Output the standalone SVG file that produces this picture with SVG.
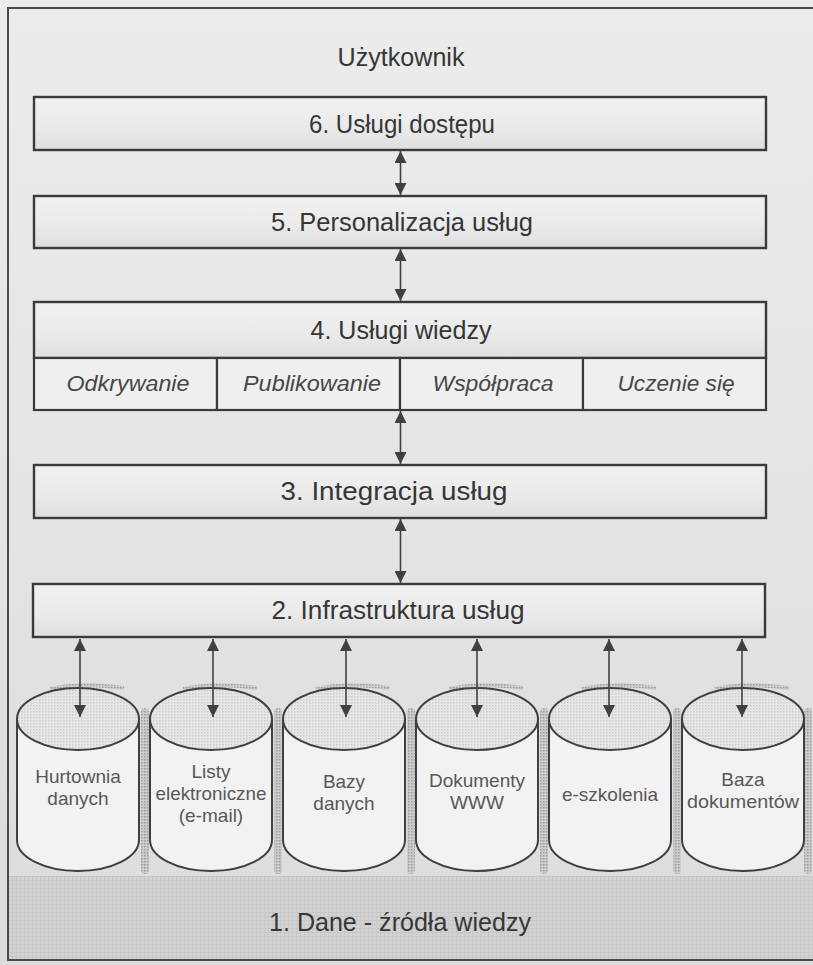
<svg xmlns="http://www.w3.org/2000/svg" width="813" height="965" viewBox="0 0 813 965">
  <defs>
    <style>
      .frame { fill: none; stroke: #4a4a4a; stroke-width: 2; }
      .layer { fill: url(#boxFill); stroke: #3a3a3a; stroke-width: 2.4; }
      .cell { fill: #efefef; stroke: #3a3a3a; stroke-width: 2.2; }
      .title { font-family: "Liberation Sans", Arial, sans-serif; font-size: 26px; fill: #363636; text-anchor: middle; dominant-baseline: central; }
      .sub { font-family: "Liberation Sans", Arial, sans-serif; font-size: 22px; font-style: italic; fill: #474747; text-anchor: middle; dominant-baseline: central; }
      .store { font-family: "Liberation Sans", Arial, sans-serif; font-size: 19px; fill: #585858; text-anchor: middle; }
      .link { stroke: #404040; stroke-width: 1.6; fill: none; marker-start: url(#head); marker-end: url(#head); }
      .body { fill: #f2f2f2; stroke: #3f3f3f; stroke-width: 2; }
      .lid { fill: url(#dots); stroke: #3f3f3f; stroke-width: 2; }
      .shade { fill: url(#dotsDark); }
      .rim { fill: none; stroke: url(#dotsDark); stroke-width: 4; }
    </style>
    <linearGradient id="boxFill" x1="0" y1="0" x2="0" y2="1">
      <stop offset="0" stop-color="#f1f1f1"/>
      <stop offset="0.55" stop-color="#ebebeb"/>
      <stop offset="1" stop-color="#dedede"/>
    </linearGradient>
    <linearGradient id="page" x1="0" y1="0" x2="0" y2="1">
      <stop offset="0" stop-color="#ececec"/>
      <stop offset="0.6" stop-color="#e3e3e3"/>
      <stop offset="1" stop-color="#dcdcdc"/>
    </linearGradient>
    <pattern id="dots" width="3" height="3" patternUnits="userSpaceOnUse">
      <rect width="3" height="3" fill="#e6e6e6"/>
      <rect width="1.5" height="1.5" fill="#cfcfcf"/>
    </pattern>
    <pattern id="dotsDark" width="3" height="3" patternUnits="userSpaceOnUse">
      <rect width="3" height="3" fill="#cccccc"/>
      <rect width="1.5" height="1.5" fill="#9c9c9c"/>
    </pattern>
    <pattern id="grid" width="4" height="4" patternUnits="userSpaceOnUse">
      <rect width="4" height="4" fill="#d3d3d3"/>
      <rect width="4" height="1" fill="#c6c6c6"/>
      <rect width="1" height="4" fill="#c9c9c9"/>
    </pattern>
    <marker id="head" viewBox="0 0 10 10" refX="10" refY="5" markerWidth="12" markerHeight="12" markerUnits="userSpaceOnUse" orient="auto-start-reverse">
      <path d="M0,0 L10,5 L0,10 z" fill="#404040"/>
    </marker>
  </defs>

  <!-- page background -->
  <rect x="0" y="0" width="813" height="965" fill="url(#page)"/>
  <rect x="9" y="876" width="804" height="84" fill="url(#grid)"/>
  <rect class="frame" x="8" y="8" width="830" height="952"/>

  <!-- top label -->
  <g id="user">
    <text class="title" x="401" y="57" textLength="127" lengthAdjust="spacingAndGlyphs">Użytkownik</text>
  </g>

  <!-- service layers -->
  <g id="layer6">
    <rect class="layer" x="34" y="97" width="732" height="53"/>
    <text class="title" x="402" y="124" textLength="186" lengthAdjust="spacingAndGlyphs">6. Usługi dostępu</text>
  </g>
  <g id="layer5">
    <rect class="layer" x="34" y="196" width="732" height="52"/>
    <text class="title" x="402" y="222" textLength="262" lengthAdjust="spacingAndGlyphs">5. Personalizacja usług</text>
  </g>
  <g id="layer4">
    <rect class="layer" x="34" y="302" width="732" height="56"/>
    <text class="title" x="401" y="330" textLength="181" lengthAdjust="spacingAndGlyphs">4. Usługi wiedzy</text>
    <rect class="cell" x="34" y="358" width="183" height="52"/>
    <rect class="cell" x="217" y="358" width="183" height="52"/>
    <rect class="cell" x="400" y="358" width="183" height="52"/>
    <rect class="cell" x="583" y="358" width="183" height="52"/>
    <text class="sub" x="128" y="383" textLength="123" lengthAdjust="spacingAndGlyphs">Odkrywanie</text>
    <text class="sub" x="312" y="383" textLength="138" lengthAdjust="spacingAndGlyphs">Publikowanie</text>
    <text class="sub" x="493" y="383" textLength="121" lengthAdjust="spacingAndGlyphs">Współpraca</text>
    <text class="sub" x="676" y="383" textLength="117" lengthAdjust="spacingAndGlyphs">Uczenie się</text>
  </g>
  <g id="layer3">
    <rect class="layer" x="34" y="465" width="732" height="53"/>
    <text class="title" x="394" y="491" textLength="227" lengthAdjust="spacingAndGlyphs">3. Integracja usług</text>
  </g>
  <g id="layer2">
    <rect class="layer" x="33" y="584" width="732" height="53"/>
    <text class="title" x="398" y="610" textLength="253" lengthAdjust="spacingAndGlyphs">2. Infrastruktura usług</text>
  </g>

  <!-- data sources (cylinders) -->
  <g id="src1">
    <rect class="shade" x="141" y="708" width="8" height="166" rx="4"/>
    <path class="rim" d="M50,689 Q80,682 124,688"/>
    <path class="body" d="M17,719 L17,840 A61,31 0 0 0 139,840 L139,719 Z"/>
    <ellipse class="lid" cx="78" cy="719" rx="61" ry="31"/>
    <text class="store" x="78" y="783">Hurtownia</text>
    <text class="store" x="78" y="805">danych</text>
  </g>
  <g id="src2">
    <rect class="shade" x="274" y="708" width="8" height="166" rx="4"/>
    <path class="rim" d="M183,689 Q213,682 257,688"/>
    <path class="body" d="M150,719 L150,840 A61,31 0 0 0 272,840 L272,719 Z"/>
    <ellipse class="lid" cx="211" cy="719" rx="61" ry="31"/>
    <text class="store" x="211" y="778">Listy</text>
    <text class="store" x="211" y="800" textLength="111" lengthAdjust="spacingAndGlyphs">elektroniczne</text>
    <text class="store" x="211" y="822">(e-mail)</text>
  </g>
  <g id="src3">
    <rect class="shade" x="407" y="708" width="8" height="166" rx="4"/>
    <path class="rim" d="M316,689 Q346,682 390,688"/>
    <path class="body" d="M283,719 L283,840 A61,31 0 0 0 405,840 L405,719 Z"/>
    <ellipse class="lid" cx="344" cy="719" rx="61" ry="31"/>
    <text class="store" x="344" y="788">Bazy</text>
    <text class="store" x="344" y="810">danych</text>
  </g>
  <g id="src4">
    <rect class="shade" x="540" y="708" width="8" height="166" rx="4"/>
    <path class="rim" d="M449,689 Q479,682 523,688"/>
    <path class="body" d="M416,719 L416,840 A61,31 0 0 0 538,840 L538,719 Z"/>
    <ellipse class="lid" cx="477" cy="719" rx="61" ry="31"/>
    <text class="store" x="477" y="787">Dokumenty</text>
    <text class="store" x="477" y="809">WWW</text>
  </g>
  <g id="src5">
    <rect class="shade" x="673" y="708" width="8" height="166" rx="4"/>
    <path class="rim" d="M582,689 Q612,682 656,688"/>
    <path class="body" d="M549,719 L549,840 A61,31 0 0 0 671,840 L671,719 Z"/>
    <ellipse class="lid" cx="610" cy="719" rx="61" ry="31"/>
    <text class="store" x="610" y="801">e-szkolenia</text>
  </g>
  <g id="src6">
    <rect class="shade" x="804" y="708" width="8" height="166" rx="4"/>
    <path class="rim" d="M715,689 Q745,682 789,688"/>
    <path class="body" d="M682,719 L682,840 A61,31 0 0 0 804,840 L804,719 Z"/>
    <ellipse class="lid" cx="743" cy="719" rx="61" ry="31"/>
    <text class="store" x="743" y="786">Baza</text>
    <text class="store" x="743" y="808" textLength="112" lengthAdjust="spacingAndGlyphs">dokumentów</text>
  </g>

  <!-- bottom label -->
  <g id="layer1">
    <text class="title" x="400" y="922" textLength="262" lengthAdjust="spacingAndGlyphs">1. Dane - źródła wiedzy</text>
  </g>

  <!-- connectors -->
  <g id="connectors">
    <line class="link" x1="400.5" y1="151" x2="400.5" y2="195"/>
    <line class="link" x1="400.5" y1="249" x2="400.5" y2="301"/>
    <line class="link" x1="400.5" y1="411" x2="400.5" y2="464"/>
    <line class="link" x1="400.5" y1="519" x2="400.5" y2="583"/>
    <line class="link" x1="80" y1="639" x2="80" y2="717"/>
    <line class="link" x1="213" y1="639" x2="213" y2="717"/>
    <line class="link" x1="346" y1="639" x2="346" y2="717"/>
    <line class="link" x1="477" y1="639" x2="477" y2="717"/>
    <line class="link" x1="609" y1="639" x2="609" y2="717"/>
    <line class="link" x1="742" y1="639" x2="742" y2="717"/>
  </g>
</svg>
